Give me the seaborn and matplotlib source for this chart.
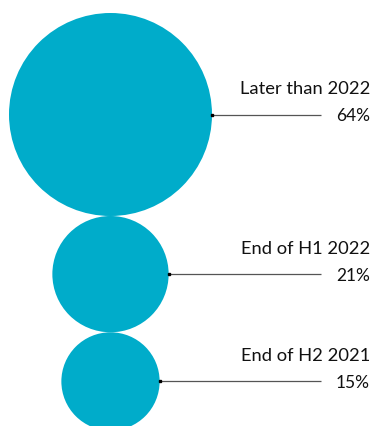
import numpy as np
import pandas as pd
import matplotlib
matplotlib.use("Agg")
import matplotlib.pyplot as plt
import seaborn as sns

# Share of respondents by expected timing
labels = ["Later than 2022", "End of H1 2022", "End of H2 2021"]
values = [64, 21, 15]
pct_labels = ["64%", "21%", "15%"]

W, H, DPI = 375, 427, 100
color = "#00acca"
r_max = 101.5          # radius of the largest bubble, px
cx = 110.5             # bubble column, px
top_center = 115.5     # centre of the first bubble, px
line_end = 321
text_right = 370

sns.set_theme(style="white")
plt.rcParams["font.family"] = ["Lato", "DejaVu Sans"]

# bubble radii scale with sqrt(value) so that area is proportional to value
radii = [r_max * np.sqrt(v / max(values)) for v in values]
centers = [top_center]
for i in range(1, len(values)):
    centers.append(centers[-1] + radii[i - 1] + radii[i])

df = pd.DataFrame({"label": labels, "value": values, "x": cx, "y": centers, "r": radii})

fig = plt.figure(figsize=(W / DPI, H / DPI), dpi=DPI)
ax = fig.add_axes([0, 0, 1, 1])
ax.set_xlim(0, W)
ax.set_ylim(H, 0)
ax.axis("off")

# marker area in pt^2: diameter(px) * 72 / dpi squared
k = (2 * r_max * 72 / DPI) ** 2 / max(values)
sns.scatterplot(data=df, x="x", y="y", size="value",
                sizes=(min(values) * k, max(values) * k),
                size_norm=(min(values), max(values)),
                color=color, edgecolor="none", linewidth=0,
                legend=False, ax=ax, zorder=2)

for _, row in df.iterrows():
    x0 = row.x + row.r
    ax.plot([x0, line_end], [row.y, row.y], color="#555555", lw=0.9, zorder=3,
            solid_capstyle="butt")
    ax.plot([x0], [row.y], marker="s", ms=2.0, color="black", zorder=4)

for lab, pct, y in zip(labels, pct_labels, centers):
    ax.text(text_right, y - 21, lab, ha="right", va="baseline",
            fontsize=13.2, color="#111111")
    ax.text(text_right, y + 5.5, pct, ha="right", va="baseline",
            fontsize=12.5, color="#111111")

fig.savefig("out.png", dpi=DPI, facecolor="white")
